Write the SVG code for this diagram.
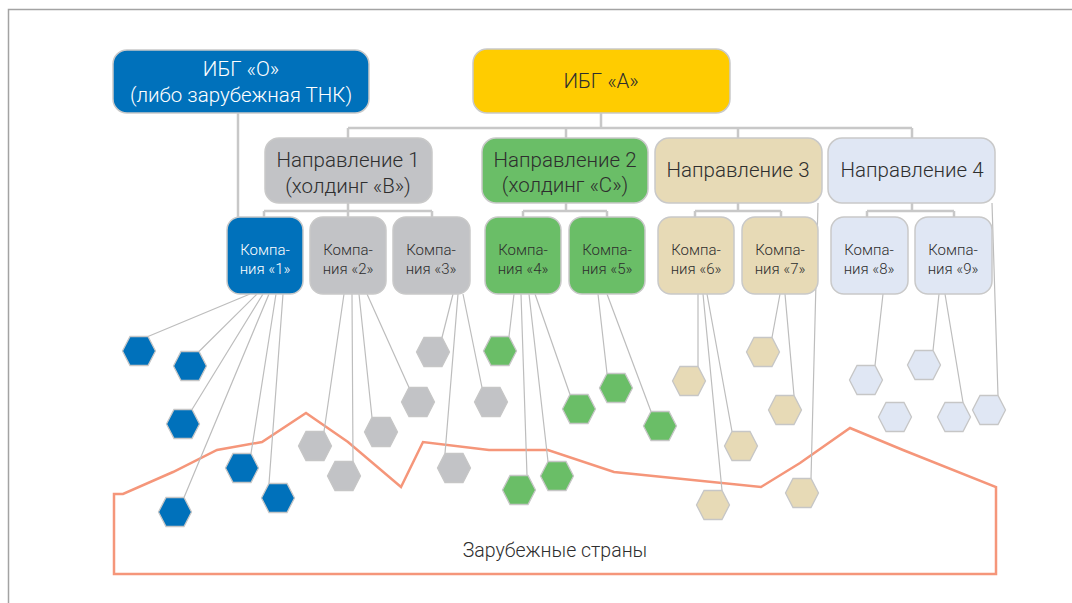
<svg xmlns="http://www.w3.org/2000/svg" xmlns:xlink="http://www.w3.org/1999/xlink" width="1072" height="603" viewBox="0 0 1072 603">
<style>
.t{font-family:Roboto,"Noto Sans",sans-serif;font-weight:300;fill:#2e2e2e;text-anchor:middle}
.big{font-size:20.5px}
.sm{font-size:15px}
.w{fill:#fff}
.box{stroke:#c9c9c9;stroke-width:1.5}
.tree{fill:none;stroke:#c8c8c8;stroke-width:2.5}
.ln{fill:none;stroke:#bdbdbd;stroke-width:1.2}
.blue{fill:#0071bb}
.yel{fill:#ffcc00}
.gry{fill:#c2c3c6}
.grn{fill:#6abe67}
.bei{fill:#e7dab6}
.lbl{fill:#e0e7f4}
.hx{stroke:#c6c6c6;stroke-width:1.3}
</style>
<defs>
<polygon id="hex" points="16.5,0 9,14.5 -9,14.5 -16.5,0 -9,-14.5 9,-14.5"/>
</defs>
<rect width="1072" height="603" fill="#fff"/>
<g id="frame" fill="none" stroke="#a3a3a3" stroke-width="1.5">
<path d="M8.5,603 V9.5 H1072"/>
</g>
<g id="region-abroad">
<polygon points="114,574 114,494 123,494 173,472 217,450 262,442 306,413 348,442 401,487 423,442 489,450 548,450 614,472 761,487 800,463 850,428 903,450 996,487 996,574" fill="none" stroke="#f5967a" stroke-width="2.5" stroke-linejoin="miter"/>
<text class="t" x="555" y="557" font-size="19.5">Зарубежные страны</text>
</g>
<g id="connectors">
<path class="tree" d="M238,113 V217"/>
<path class="tree" d="M601,113 V128 M348,128 H912 M348,128 V138 M566,128 V138 M738,128 V138 M912,128 V138"/>
<path class="tree" d="M348,203 V211 M264,211 H432 M264,211 V217 M348,211 V217 M432,211 V217"/>
<path class="tree" d="M566,203 V211 M523,211 H607 M523,211 V217 M607,211 V217"/>
<path class="tree" d="M738,203 V211 M695,211 H781 M695,211 V217 M781,211 V217"/>
<path class="tree" d="M912,203 V211 M867,211 H954 M867,211 V217 M954,211 V217"/>
<path class="ln" d="M250,294 L148,336.5 M257,294 L199,351.5 M263,294 L192,409.5 M269,294 L184,497.5 M276,294 L251,453.5 M283,294 L269,483.5"/>
<path class="ln" d="M344,294 L324,431.5 M352,294 L353,461.5 M359,294 L372,417.5 M367,294 L409,387.5"/>
<path class="ln" d="M453,294 L442,337.5 M458,294 L445,453.5 M463,294 L482,387.5"/>
<path class="ln" d="M514,294 L509,336.5 M521,294 L527,475.5 M529,294 L548,461.5 M535,294 L570,394.5"/>
<path class="ln" d="M598,294 L607,373.5 M607,294 L651,411.5"/>
<path class="ln" d="M698,294 L698,366.5 M703,294 L722,490.5 M707,294 L732,431.5"/>
<path class="ln" d="M780,294 L772,337.5 M785,294 L794,395.5 M818,203 L811,478.5"/>
<path class="ln" d="M883,294 L875,365.5 M939,294 L933,350.5 M945,294 L963,402.5 M992,203 L998,395.5"/>
</g>
<g id="n-ibg-o"><rect class="box blue" x="113" y="50" width="256" height="63" rx="14"/><text class="t big w" x="241" y="76">ИБГ «О»</text><text class="t big w" x="241" y="102">(либо зарубежная ТНК)</text></g>
<g id="n-ibg-a"><rect class="box yel" x="473" y="49" width="257" height="64" rx="14"/><text class="t big" x="601" y="88">ИБГ «А»</text></g>
<g id="n-dir1"><rect class="box gry" x="265" y="138" width="167" height="65" rx="14"/><text class="t big" x="348" y="167">Направление 1</text><text class="t big" x="348" y="193">(холдинг «В»)</text></g>
<g id="n-dir2"><rect class="box grn" x="482" y="138" width="166" height="65" rx="14"/><text class="t big" x="565" y="167">Направление 2</text><text class="t big" x="565" y="192">(холдинг «С»)</text></g>
<g id="n-dir3"><rect class="box bei" x="655" y="138" width="167" height="65" rx="14"/><text class="t big" x="738" y="177">Направление 3</text></g>
<g id="n-dir4"><rect class="box lbl" x="828" y="138" width="167" height="65" rx="14"/><text class="t big" x="912" y="177">Направление 4</text></g>
<g id="n-c1"><rect class="box blue" x="227" y="217" width="76" height="77" rx="13"/><text class="t sm w" x="265" y="255">Компа-</text><text class="t sm w" x="265" y="274">ния «1»</text></g>
<g id="n-c2"><rect class="box gry" x="310" y="217" width="76" height="77" rx="13"/><text class="t sm" x="348" y="255">Компа-</text><text class="t sm" x="348" y="274">ния «2»</text></g>
<g id="n-c3"><rect class="box gry" x="393" y="217" width="77" height="77" rx="13"/><text class="t sm" x="431" y="255">Компа-</text><text class="t sm" x="431" y="274">ния «3»</text></g>
<g id="n-c4"><rect class="box grn" x="485" y="217" width="76" height="77" rx="13"/><text class="t sm" x="523" y="255">Компа-</text><text class="t sm" x="523" y="274">ния «4»</text></g>
<g id="n-c5"><rect class="box grn" x="569" y="217" width="76" height="77" rx="13"/><text class="t sm" x="607" y="255">Компа-</text><text class="t sm" x="607" y="274">ния «5»</text></g>
<g id="n-c6"><rect class="box bei" x="658" y="217" width="76" height="77" rx="13"/><text class="t sm" x="696" y="255">Компа-</text><text class="t sm" x="696" y="274">ния «6»</text></g>
<g id="n-c7"><rect class="box bei" x="742" y="217" width="76" height="77" rx="13"/><text class="t sm" x="780" y="255">Компа-</text><text class="t sm" x="780" y="274">ния «7»</text></g>
<g id="n-c8"><rect class="box lbl" x="831" y="217" width="77" height="77" rx="13"/><text class="t sm" x="869" y="255">Компа-</text><text class="t sm" x="869" y="274">ния «8»</text></g>
<g id="n-c9"><rect class="box lbl" x="915" y="217" width="77" height="77" rx="13"/><text class="t sm" x="953" y="255">Компа-</text><text class="t sm" x="953" y="274">ния «9»</text></g>
<g id="hexes">
<g id="h1"><use href="#hex" class="blue hx" x="139" y="351"/></g>
<g id="h2"><use href="#hex" class="blue hx" x="190" y="366"/></g>
<g id="h3"><use href="#hex" class="blue hx" x="183" y="424"/></g>
<g id="h4"><use href="#hex" class="blue hx" x="242" y="468"/></g>
<g id="h5"><use href="#hex" class="blue hx" x="278" y="498"/></g>
<g id="h6"><use href="#hex" class="blue hx" x="175" y="512"/></g>
<g id="h7"><use href="#hex" class="gry hx" x="433" y="352"/></g>
<g id="h8"><use href="#hex" class="gry hx" x="418" y="402"/></g>
<g id="h9"><use href="#hex" class="gry hx" x="491" y="402"/></g>
<g id="h10"><use href="#hex" class="gry hx" x="381" y="432"/></g>
<g id="h11"><use href="#hex" class="gry hx" x="315" y="446"/></g>
<g id="h12"><use href="#hex" class="gry hx" x="344" y="476"/></g>
<g id="h13"><use href="#hex" class="gry hx" x="454" y="468"/></g>
<g id="h14"><use href="#hex" class="grn hx" x="500" y="351"/></g>
<g id="h15"><use href="#hex" class="grn hx" x="616" y="388"/></g>
<g id="h16"><use href="#hex" class="grn hx" x="579" y="409"/></g>
<g id="h17"><use href="#hex" class="grn hx" x="660" y="426"/></g>
<g id="h18"><use href="#hex" class="grn hx" x="519" y="490"/></g>
<g id="h19"><use href="#hex" class="grn hx" x="557" y="476"/></g>
<g id="h20"><use href="#hex" class="bei hx" x="689" y="381"/></g>
<g id="h21"><use href="#hex" class="bei hx" x="763" y="352"/></g>
<g id="h22"><use href="#hex" class="bei hx" x="785" y="410"/></g>
<g id="h23"><use href="#hex" class="bei hx" x="741" y="446"/></g>
<g id="h24"><use href="#hex" class="bei hx" x="713" y="505"/></g>
<g id="h25"><use href="#hex" class="bei hx" x="802" y="493"/></g>
<g id="h26"><use href="#hex" class="lbl hx" x="866" y="380"/></g>
<g id="h27"><use href="#hex" class="lbl hx" x="924" y="365"/></g>
<g id="h28"><use href="#hex" class="lbl hx" x="895" y="417"/></g>
<g id="h29"><use href="#hex" class="lbl hx" x="954" y="417"/></g>
<g id="h30"><use href="#hex" class="lbl hx" x="989" y="410"/></g>
</g>
</svg>
